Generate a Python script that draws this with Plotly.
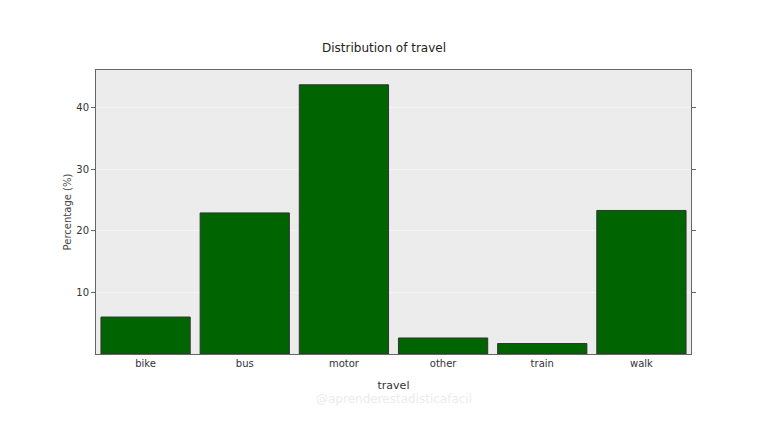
import plotly.graph_objects as go

categories = ["bike", "bus", "motor", "other", "train", "walk"]
percentages = [6.0, 22.9, 43.7, 2.6, 1.7, 23.3]
y_ticks = [10, 20, 30, 40]

font = "DejaVu Sans"
fig = go.Figure(go.Bar(
    x=categories, y=percentages,
    marker=dict(color="#006400", line=dict(color="#333333", width=1)),
))
fig.update_layout(
    width=768, height=432,
    margin=dict(l=96, r=77, t=70, b=78),
    paper_bgcolor="white", plot_bgcolor="#ececec",
    bargap=0.1, showlegend=False,
    font=dict(family=font, size=10, color="#333333"),
    title=dict(text="Distribution of travel", x=0.5, xanchor="center",
               y=1 - 48/432, yanchor="middle",
               font=dict(family=font, size=12, color="#222222")),
)
fig.update_xaxes(
    range=[-0.5, 5.5], showline=True, linecolor="#666666", linewidth=1, mirror=True,
    ticks="", showgrid=False,
    title=dict(text="travel", standoff=13, font=dict(size=11, color="#333333")),
)
fig.update_yaxes(
    range=[0, 46.1], tickvals=y_ticks, showline=True, linecolor="#666666", linewidth=1,
    mirror="ticks", ticks="outside", ticklen=4, tickcolor="#666666",
    showgrid=True, gridcolor="#f4f4f4", gridwidth=1, zeroline=False,
    title=dict(text="Percentage (%)", standoff=2, font=dict(size=10, color="#444444")),
)
fig.add_annotation(
    text="@aprenderestadisticafacil", xref="paper", yref="paper",
    x=0.5, y=-44/284 - 0.005, showarrow=False, yanchor="middle",
    font=dict(family=font, size=12, color="#ececec"),
)
fig.write_html("out.html")
